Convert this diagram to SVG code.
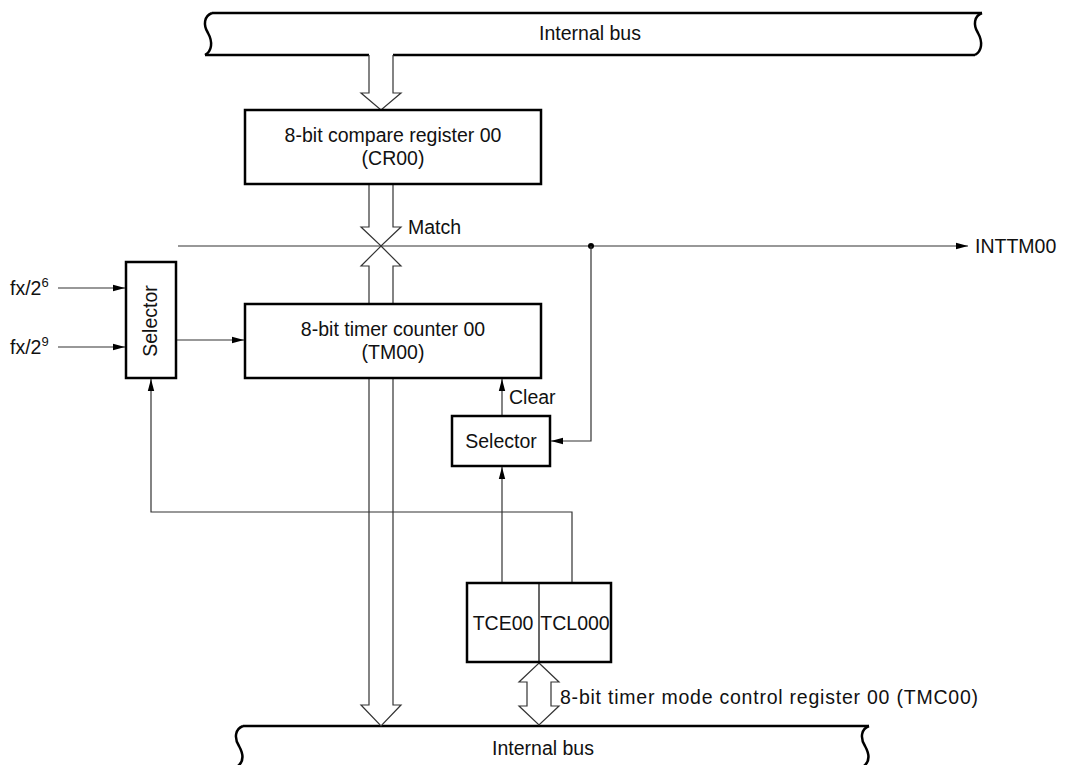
<svg xmlns="http://www.w3.org/2000/svg" width="1073" height="765" viewBox="0 0 1073 765">
<style>
text{font-family:"Liberation Sans",Arial,sans-serif;font-size:19.5px;fill:#111}
.box{fill:#fff;stroke:#000;stroke-width:2.5}
.ln{fill:none;stroke:#333;stroke-width:1.2}
.bus{fill:none;stroke:#000;stroke-width:2.5}
.harrow{fill:#fff;stroke:#333;stroke-width:1.2}
</style>
<defs>
<marker id="ah" markerWidth="12" markerHeight="8" refX="12" refY="4" orient="auto" markerUnits="userSpaceOnUse">
<path d="M0,0.8 L12,4 L0,7.2 Z" fill="#000"/>
</marker>
</defs>
<rect width="1073" height="765" fill="#fff"/>

<g id="bus-top">
<path class="bus" d="M212,13 H982"/>
<path class="bus" d="M212,13 C204,16 203,25 208,33 C213,42 212,51 205,55"/>
<path class="bus" d="M982,13 C974,16 973,25 978,33 C983,42 982,51 975,55"/>
<path class="bus" d="M205,55 H369 M393,55 H975"/>
<text x="590" y="40" text-anchor="middle">Internal bus</text>
</g>

<g id="bus-bottom">
<path class="bus" d="M243,726 H869"/>
<path class="bus" d="M243,726 C235,729 234,738 239,746 C244,755 243,762 238,766"/>
<path class="bus" d="M869,726 C861,729 860,738 865,746 C870,755 869,762 864,766"/>
<text x="543" y="755" text-anchor="middle">Internal bus</text>
</g>

<g id="connectors">
<path class="harrow" d="M369,55 V93 H361 L381,110 L401,93 H393 V55"/>
<path class="harrow" d="M369,184 V227 H361 L381,246 L401,227 H393 V184"/>
<path class="harrow" d="M381,246 L401,266 H393 V705 H401 L381,726 L361,705 H369 V266 H361 Z"/>
<path class="harrow" d="M539,663 L559,682 H551 V706 H559 L539,725 L519,706 H527 V682 H519 Z"/>
<line class="ln" x1="178" y1="246" x2="968" y2="246" marker-end="url(#ah)"/>
<circle cx="591" cy="246" r="3" fill="#000"/>
<path class="ln" d="M591,246 V441 H551" marker-end="url(#ah)"/>
<line class="ln" x1="58" y1="288" x2="125" y2="288" marker-end="url(#ah)"/>
<line class="ln" x1="58" y1="347" x2="125" y2="347" marker-end="url(#ah)"/>
<line class="ln" x1="176" y1="340" x2="244" y2="340" marker-end="url(#ah)"/>
<path class="ln" d="M572,583 V512 H151 V379" marker-end="url(#ah)"/>
<line class="ln" x1="502" y1="583" x2="502" y2="467" marker-end="url(#ah)"/>
<line class="ln" x1="502" y1="416" x2="502" y2="379" marker-end="url(#ah)"/>
<text x="408" y="234">Match</text>
<text x="975" y="253">INTTM00</text>
<text x="509" y="404">Clear</text>
<text x="560" y="704" font-size="20" textLength="418" lengthAdjust="spacing">8-bit timer mode control register 00 (TMC00)</text>
<text x="10" y="295">fx/2<tspan dy="-8" font-size="13">6</tspan></text>
<text x="10" y="354">fx/2<tspan dy="-8" font-size="13">9</tspan></text>
</g>

<g id="cr00">
<rect class="box" x="245" y="110" width="296" height="74"/>
<text x="393" y="142" text-anchor="middle">8-bit compare register 00</text>
<text x="393" y="165" text-anchor="middle">(CR00)</text>
</g>

<g id="tm00">
<rect class="box" x="245" y="304" width="296" height="74"/>
<text x="393" y="336" text-anchor="middle">8-bit timer counter 00</text>
<text x="393" y="359" text-anchor="middle">(TM00)</text>
</g>

<g id="selector1">
<rect class="box" x="126" y="262" width="50" height="116"/>
<text transform="translate(157,321) rotate(-90)" text-anchor="middle">Selector</text>
</g>

<g id="selector2">
<rect class="box" x="452" y="416" width="98" height="50"/>
<text x="501" y="448" text-anchor="middle">Selector</text>
</g>

<g id="tmc00">
<rect class="box" x="467" y="583" width="144" height="79"/>
<line x1="539" y1="583" x2="539" y2="662" stroke="#000" stroke-width="1.2"/>
<text x="503" y="630" text-anchor="middle">TCE00</text>
<text x="575" y="630" text-anchor="middle">TCL000</text>
</g>
</svg>
